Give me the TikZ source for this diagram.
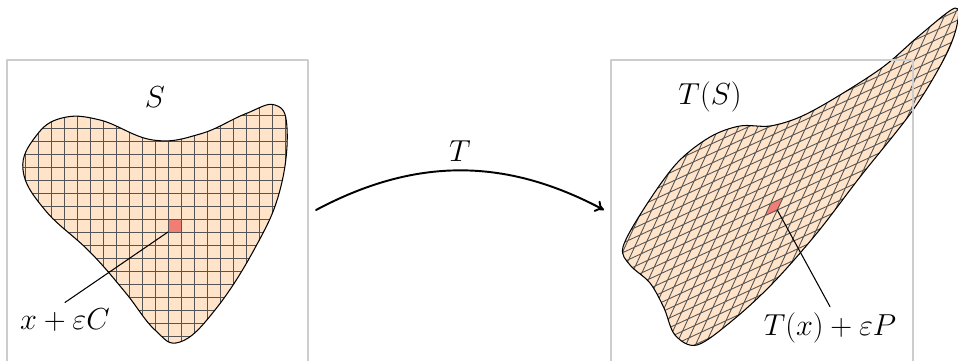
\documentclass[tikz,border=0pt]{standalone}
\usetikzlibrary{arrows.meta}

\definecolor{blobfill}{RGB}{255,228,202}
\definecolor{cellred}{RGB}{240,126,116}
\definecolor{framegray}{RGB}{205,205,205}
\definecolor{meshgray}{RGB}{85,85,85}

% contornos de S y de T(S)
\newcommand{\leftblob}{plot[smooth cycle,tension=0.7] coordinates {
    (23,190) (36,224) (62,242) (100,240) (153,220) (200,226)
    (245,246) (275,255) (287,232) (280,170) (255,112) (215,50)
    (180,18) (155,30) (125,68) (90,108) (45,150)}}
\newcommand{\rightblob}{plot[smooth cycle,tension=0.55] coordinates {
    (623,113) (645,153) (677,197) (710,223) (740,234) (770,234)
    (800,243) (835,262) (883,293) (920,325) (955,352) (957,335)
    (945,303) (913,250) (860,183) (817,127) (773,77) (733,40)
    (697,15) (675,25) (664,52) (650,77) (630,95)}}

\begin{document}
\begin{tikzpicture}[x=0.02cm,y=0.02cm,line cap=round,line join=round,
    blob/.style={fill=blobfill},
    outline/.style={draw=black,line width=0.6pt},
    mesh/.style={draw=meshgray,line width=0.5pt},
    cell/.style={fill=cellred},
    frame/.style={draw=framegray,line width=0.6pt},
    leader/.style={draw=black,line width=0.6pt},
    maparrow/.style={-{To[length=5pt,width=7pt]},line width=1.1pt},
    lbl/.style={font=\fontsize{18}{22}\selectfont}]
    \useasboundingbox (0,0) rectangle (958,360);

    %----------------------------------------------------------
    % Region S con la reticula de cubos x + eps C
    \fill[blob] \leftblob;
    \begin{scope}
        \clip \leftblob;
        \begin{scope}[shift={(168,128)},scale=13]
            \fill[cell] (0,0) rectangle (1,1);
            \draw[mesh,step=1] (-13,-11) grid (11,11);
        \end{scope}
    \end{scope}
    \draw[outline] \leftblob;
    \coordinate (cellC) at (168,128);

    \node[lbl] (labS) at (155,263) {$S$};
    \node[lbl] (labC) at (65,40) {$x+\varepsilon C$};
    \draw[leader] (cellC) -- (labC.north);

    %----------------------------------------------------------
    % Region T(S) con la reticula de paralelogramos
    \fill[blob] \rightblob;
    \begin{scope}
        \clip \rightblob;
        \begin{scope}[shift={(765,144.3)},cm={12.3,5.7,5.7,12.3,(0,0)}]
            \fill[cell] (0,0) rectangle (1,1);
            \draw[mesh,step=1] (-17,-14) grid (14,16);
        \end{scope}
    \end{scope}
    \draw[outline] \rightblob;
    \coordinate (cellP) at (777.3,150);

    \node[lbl] (labTS) at (710,263) {$T(S)$};
    \node[lbl] (labP) at (830,32) {$T(x)+\varepsilon P$};
    \draw[leader] (cellP) -- (labP.north);

    %----------------------------------------------------------
    % Marcos
    \draw[frame] (7,-5) rectangle (308,300);
    \draw[frame] (611,-5) rectangle (913,300);

    % Aplicacion T
    \coordinate (mapA) at (316,150);
    \coordinate (mapB) at (604,150);
    \draw[maparrow] (mapA) to[bend left=28]
        node[lbl,above=1pt] (labT) {$T$} (mapB);
\end{tikzpicture}
\end{document}
